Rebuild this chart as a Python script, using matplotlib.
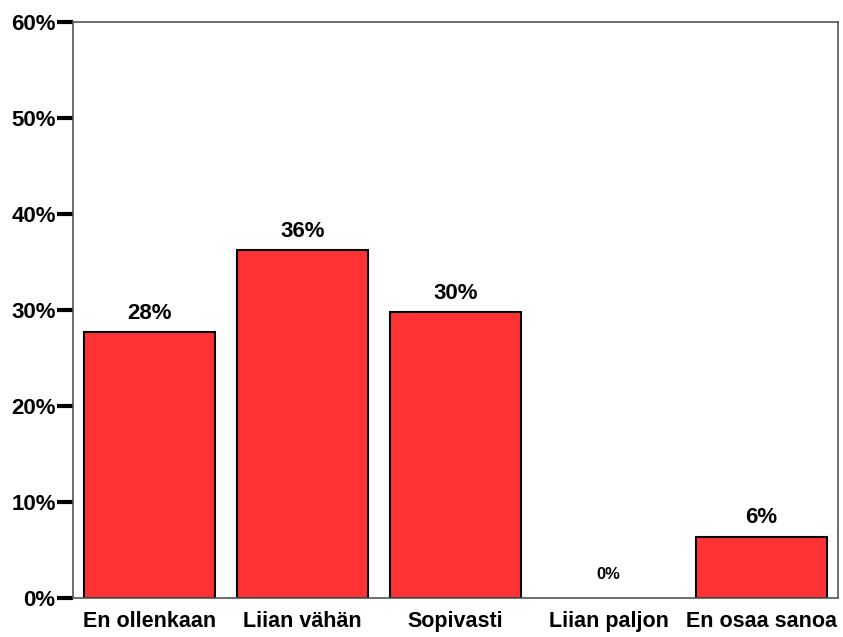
import matplotlib
matplotlib.use("Agg")
import matplotlib.pyplot as plt

categories = ["En ollenkaan", "Liian vähän", "Sopivasti", "Liian paljon", "En osaa sanoa"]
values = [27.7, 36.2, 29.8, 0.0, 6.4]
labels = ["28%", "36%", "30%", "0%", "6%"]
yticks = [0, 10, 20, 30, 40, 50, 60]
yticklabels = ["0%", "10%", "20%", "30%", "40%", "50%", "60%"]

plt.rcParams['font.family'] = ['Liberation Sans', 'DejaVu Sans']
plt.rcParams['font.weight'] = 'bold'

fig = plt.figure(figsize=(8.43, 6.37), dpi=100)
ax = fig.add_axes([0.0866, 0.0612, 0.9074, 0.9043])

x = list(range(len(categories)))
edge_widths = [1.5 if v > 0 else 0 for v in values]
ax.bar(x, values, width=0.86, color="#FF3333", edgecolor="black", linewidth=edge_widths, zorder=2)

for xi, v, lab in zip(x, values, labels):
    if v == 0:
        ax.annotate(lab, (xi, v), xytext=(0, 17), textcoords="offset points",
                    ha="center", va="center", fontsize=12, fontweight="bold")
    else:
        ax.annotate(lab, (xi, v), xytext=(0, 6), textcoords="offset points",
                    ha="center", va="bottom", fontsize=16, fontweight="bold")

ax.set_xlim(-0.5, 4.5)
ax.set_ylim(0, 60)
ax.set_yticks(yticks)
ax.set_yticklabels(yticklabels, fontsize=16, fontweight="bold")
ax.set_xticks(x)
ax.set_xticklabels(categories, fontsize=15.5, fontweight="bold")
ax.tick_params(axis="y", length=11.5, width=3, color="black", pad=1, direction="out")
ax.tick_params(axis="x", length=0, pad=9)
for s in ax.spines.values():
    s.set_color("#555555")
    s.set_linewidth(1.2)

fig.savefig("out.png", dpi=100)
